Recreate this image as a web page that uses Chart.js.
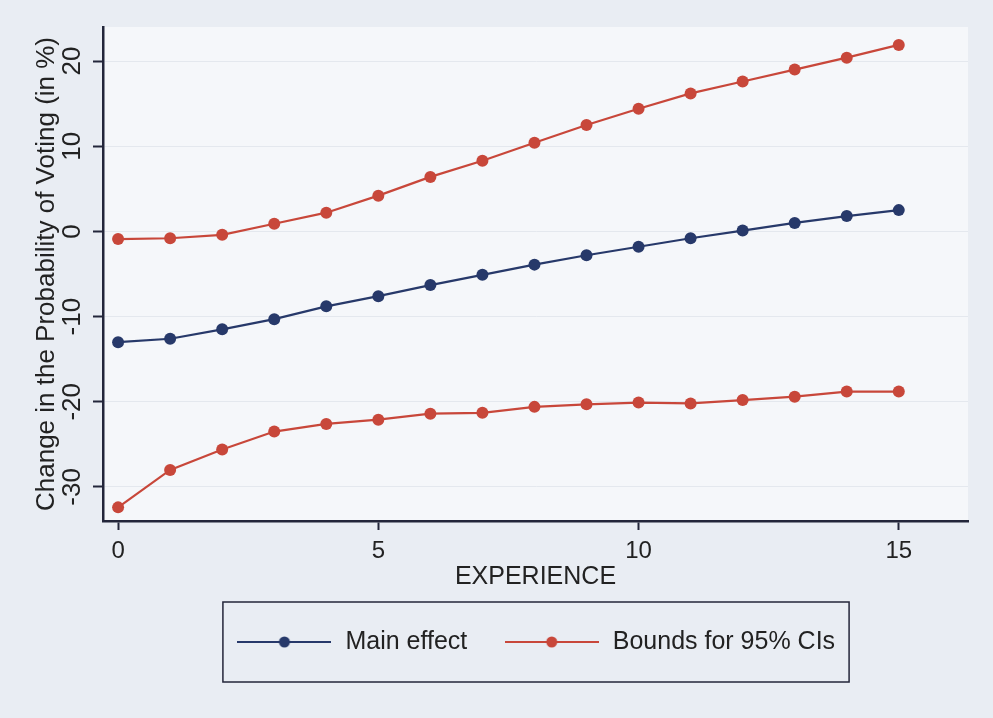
<!DOCTYPE html>
<html>
<head>
<meta charset="utf-8">
<title>Marginal effect of experience</title>
<script src="https://cdn.jsdelivr.net/npm/chart.js@4/dist/chart.umd.min.js"></script>
<style>
  html, body { margin: 0; padding: 0; background: #e9edf3; }
  canvas { display: block; }
</style>
</head>
<body>
<canvas id="chart" width="993" height="718"></canvas>
<script>
const experience = [0, 1, 2, 3, 4, 5, 6, 7, 8, 9, 10, 11, 12, 13, 14, 15];
const mainEffect = [-13.0, -12.6, -11.5, -10.3, -8.8, -7.6, -6.3, -5.1, -3.9, -2.8, -1.8, -0.8, 0.1, 1.0, 1.8, 2.5];
const upperBound = [-0.9, -0.8, -0.4, 0.9, 2.2, 4.2, 6.4, 8.3, 10.4, 12.5, 14.4, 16.2, 17.6, 19.0, 20.4, 21.9];
const lowerBound = [-32.4, -28.0, -25.6, -23.5, -22.6, -22.1, -21.4, -21.3, -20.6, -20.3, -20.1, -20.2, -19.8, -19.4, -18.8, -18.8];
const xTicks = [0, 5, 10, 15];
const yTicks = [-30, -20, -10, 0, 10, 20];

const BLUE = '#27396a';
const RED = '#c8473a';
const INK = '#23263a';

Chart.defaults.font.family = '"Liberation Sans", Arial, sans-serif';
Chart.defaults.color = '#222';

const toPoints = ys => experience.map((x, i) => ({ x: x, y: ys[i] }));

// line-with-marker symbol for the legend
function legendSymbol(color) {
  const c = document.createElement('canvas');
  c.width = 94;
  c.height = 16;
  const ctx = c.getContext('2d');
  ctx.strokeStyle = color;
  ctx.lineWidth = 2;
  ctx.beginPath();
  ctx.moveTo(0, 8);
  ctx.lineTo(94, 8);
  ctx.stroke();
  ctx.fillStyle = color;
  ctx.beginPath();
  ctx.arc(47, 8, 5.5, 0, Math.PI * 2);
  ctx.fill();
  return c;
}

const backdrop = {
  id: 'backdrop',
  beforeDraw(chart) {
    const { ctx, chartArea: a } = chart;
    ctx.save();
    ctx.fillStyle = '#e9edf3';
    ctx.fillRect(0, 0, chart.width, chart.height);
    ctx.fillStyle = '#f5f7fa';
    ctx.fillRect(a.left, a.top, a.right - a.left, a.bottom - a.top);
    ctx.restore();
  }
};

const legendFrame = {
  id: 'legendFrame',
  afterDraw(chart) {
    const boxes = chart.legend.legendHitBoxes;
    if (!boxes || !boxes.length) return;
    const first = boxes[0];
    const last = boxes[boxes.length - 1];
    const left = first.left - 13;
    const right = last.left + last.width + 14;
    const cy = first.top + first.height / 2;
    const ctx = chart.ctx;
    ctx.save();
    ctx.strokeStyle = INK;
    ctx.lineWidth = 1.5;
    ctx.strokeRect(left, cy - 40, right - left, 80);
    ctx.restore();
  }
};

new Chart(document.getElementById('chart'), {
  type: 'line',
  data: {
    datasets: [
      {
        label: 'Main effect',
        data: toPoints(mainEffect),
        borderColor: BLUE,
        backgroundColor: BLUE
      },
      {
        label: 'Bounds for 95% CIs',
        data: toPoints(upperBound),
        borderColor: RED,
        backgroundColor: RED
      },
      {
        label: 'Bounds for 95% CIs',
        data: toPoints(lowerBound),
        borderColor: RED,
        backgroundColor: RED
      }
    ]
  },
  options: {
    responsive: false,
    animation: false,
    layout: { padding: { top: 27, right: 25, bottom: 53.5, left: 0 } },
    elements: {
      line: { borderWidth: 2.2, tension: 0 },
      point: { radius: 6, borderWidth: 0, hoverRadius: 6 }
    },
    scales: {
      x: {
        type: 'linear',
        min: -0.29,
        max: 16.33,
        afterBuildTicks: scale => { scale.ticks = xTicks.map(v => ({ value: v })); },
        afterFit: scale => { scale.height = 72.5; },
        border: { color: INK, width: 2.5 },
        grid: { drawOnChartArea: false, tickLength: 9, tickColor: INK, tickWidth: 2 },
        ticks: { padding: 7, font: { size: 24 }, color: '#222' },
        title: {
          display: true,
          text: 'EXPERIENCE',
          font: { size: 25 },
          color: '#222',
          padding: { top: 0, bottom: 1.5 }
        }
      },
      y: {
        type: 'linear',
        min: -34,
        max: 24,
        afterBuildTicks: scale => { scale.ticks = yTicks.map(v => ({ value: v })); },
        afterFit: scale => { scale.width = 103; },
        border: { color: INK, width: 2.5 },
        grid: { color: '#e4e8ee', lineWidth: 1, tickLength: 10, tickColor: INK, tickWidth: 2 },
        ticks: {
          minRotation: 90,
          maxRotation: 90,
          crossAlign: 'center',
          padding: 1,
          font: { size: 26 },
          color: '#222'
        },
        title: {
          display: true,
          text: 'Change in the Probability of Voting (in %)',
          font: { size: 26 },
          color: '#222',
          padding: { top: 31, bottom: 0 }
        }
      }
    },
    plugins: {
      tooltip: { enabled: false },
      legend: {
        position: 'bottom',
        fullSize: false,
        labels: {
          usePointStyle: true,
          pointStyleWidth: 97,
          padding: 36,
          font: { size: 25 },
          color: '#222',
          generateLabels(chart) {
            const items = Chart.defaults.plugins.legend.labels.generateLabels(chart);
            return items
              .filter(item => item.datasetIndex < 2)
              .map(item => Object.assign(item, {
                pointStyle: legendSymbol(chart.data.datasets[item.datasetIndex].borderColor)
              }));
          }
        }
      }
    }
  },
  plugins: [backdrop, legendFrame]
});
</script>
</body>
</html>
